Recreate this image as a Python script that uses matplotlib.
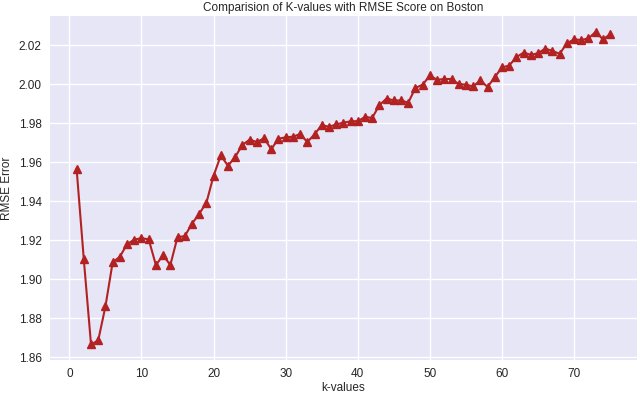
import matplotlib

matplotlib.use("Agg")
import matplotlib.pyplot as plt
import numpy as np

k_values = np.arange(1, 76)
rmse = [
    1.9567, 1.9102, 1.8666, 1.8687, 1.8861, 1.9087, 1.9116, 1.9180, 1.9204, 1.9211,
    1.9205, 1.9073, 1.9124, 1.9073, 1.9217, 1.9221, 1.9285, 1.9336, 1.9392, 1.9531,
    1.9635, 1.9582, 1.9628, 1.9689, 1.9716, 1.9704, 1.9723, 1.9667, 1.9721, 1.9728,
    1.9731, 1.9745, 1.9704, 1.9743, 1.9791, 1.9782, 1.9794, 1.9803, 1.9810, 1.9811,
    1.9832, 1.9828, 1.9893, 1.9927, 1.9917, 1.9917, 1.9906, 1.9981, 1.9998, 2.0045,
    2.0023, 2.0027, 2.0027, 2.0001, 1.9998, 1.9989, 2.0020, 1.9986, 2.0037, 2.0086,
    2.0096, 2.0139, 2.0162, 2.0151, 2.0159, 2.0183, 2.0171, 2.0156, 2.0210, 2.0230,
    2.0227, 2.0235, 2.0269, 2.0230, 2.0256,
]
y_ticks = [1.86, 1.88, 1.90, 1.92, 1.94, 1.96, 1.98, 2.00, 2.02]

plt.rcParams.update(
    {
        "font.family": ["Liberation Sans", "DejaVu Sans"],
        "font.size": 8.5,
        "text.color": "#262626",
        "axes.labelcolor": "#262626",
        "xtick.color": "#262626",
        "ytick.color": "#262626",
    }
)

fig = plt.figure(figsize=(6.4, 3.94), dpi=100)
ax = fig.add_axes([0.078, 0.086, 0.917, 0.873])
ax.set_facecolor("#e6e6f7")
ax.plot(k_values, rmse, color="#b22222", linewidth=1.5, marker="^", markersize=5.5)
ax.set_yticks(y_ticks)
ax.set_yticklabels([f"{t:.2f}" for t in y_ticks])
ax.grid(color="white", linewidth=1.0)
ax.set_axisbelow(True)
for spine in ax.spines.values():
    spine.set_visible(False)
ax.tick_params(length=0, pad=6)
ax.set_xlabel("k-values", labelpad=1)
ax.set_ylabel("RMSE Error", labelpad=4)
ax.set_title("Comparision of K-values with RMSE Score on Boston", fontsize=8.5, pad=4)

fig.savefig("out.png", dpi=100)
